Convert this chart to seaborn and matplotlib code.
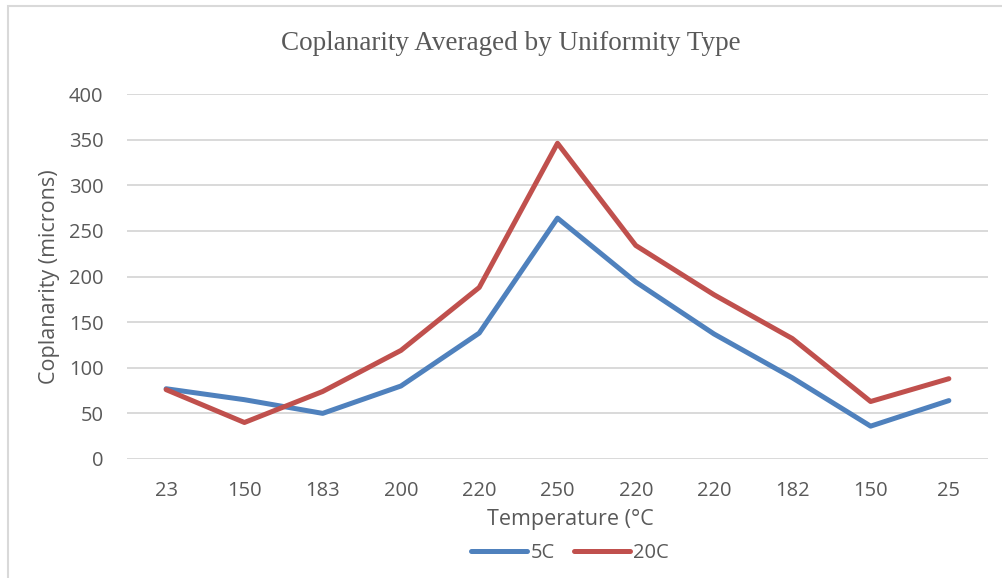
import matplotlib
matplotlib.use("Agg")
import matplotlib.pyplot as plt
import pandas as pd
import seaborn as sns
from matplotlib.patches import Rectangle

temps = ["23", "150", "183", "200", "220", "250", "220", "220", "182", "150", "25"]
coplan_5c = [77, 65, 50, 80, 138, 264, 194, 137, 89, 36, 64]
coplan_20c = [76, 40, 74, 119, 188, 346, 234, 180, 132, 63, 88]
series = ["5C", "20C"]
colors = ["#4F81BD", "#C0504D"]

pos = list(range(len(temps)))
df = pd.DataFrame({
    "pos": pos * 2,
    "value": coplan_5c + coplan_20c,
    "series": [series[0]] * len(pos) + [series[1]] * len(pos),
})

sns.set_theme(style="white")
plt.rcParams["font.family"] = ["Open Sans", "DejaVu Sans"]
txt = "#595959"

fig = plt.figure(figsize=(10.03, 5.78), dpi=100)
ax = fig.add_axes([127 / 1003, 1 - 459 / 578, (988 - 127) / 1003, (459 - 94) / 578])

sns.lineplot(data=df, x="pos", y="value", hue="series", palette=colors,
             linewidth=3.6, sort=False, ax=ax, legend=False)

ax.set_xlim(-0.5, len(temps) - 0.5)
ax.set_ylim(0, 400)
ax.set_yticks(range(0, 401, 50))
ax.set_xticks(pos)
ax.set_xticklabels(temps)
ax.grid(axis="y", color="#D9D9D9", linewidth=1.4)
ax.set_axisbelow(True)
for s in ax.spines.values():
    s.set_visible(False)
ax.tick_params(axis="both", length=0, labelsize=14.5, labelcolor=txt)
ax.tick_params(axis="y", pad=17)
ax.tick_params(axis="x", pad=16)

ax.set_xlabel("Temperature (°C", fontsize=15.5, color=txt)
ax.xaxis.set_label_coords(0.5145, -0.138)
ax.set_ylabel("Coplanarity (microns)", fontsize=15.5, color=txt)
ax.yaxis.set_label_coords(-0.078, 0.5)

fig.text(511 / 1003, 1 - 43 / 578, "Coplanarity Averaged by Uniformity Type",
         family="Liberation Serif", fontsize=19.5, color=txt, ha="center", va="center")

handles = [plt.Line2D([], [], color=c, linewidth=3.6, solid_capstyle="round") for c in colors]
fig.legend(handles, series, loc="center", bbox_to_anchor=(570 / 1003, 1 - 553 / 578),
           ncol=2, frameon=False, fontsize=14.5, labelcolor=txt, handlelength=2.8,
           handletextpad=0.15, columnspacing=0.95)

fig.add_artist(Rectangle((8 / 1003, -0.01), 1.1, 1 - 6 / 578 + 0.01, transform=fig.transFigure,
                         fill=False, edgecolor="#D9D9D9", linewidth=1.5))

fig.savefig("out.png", dpi=100)
